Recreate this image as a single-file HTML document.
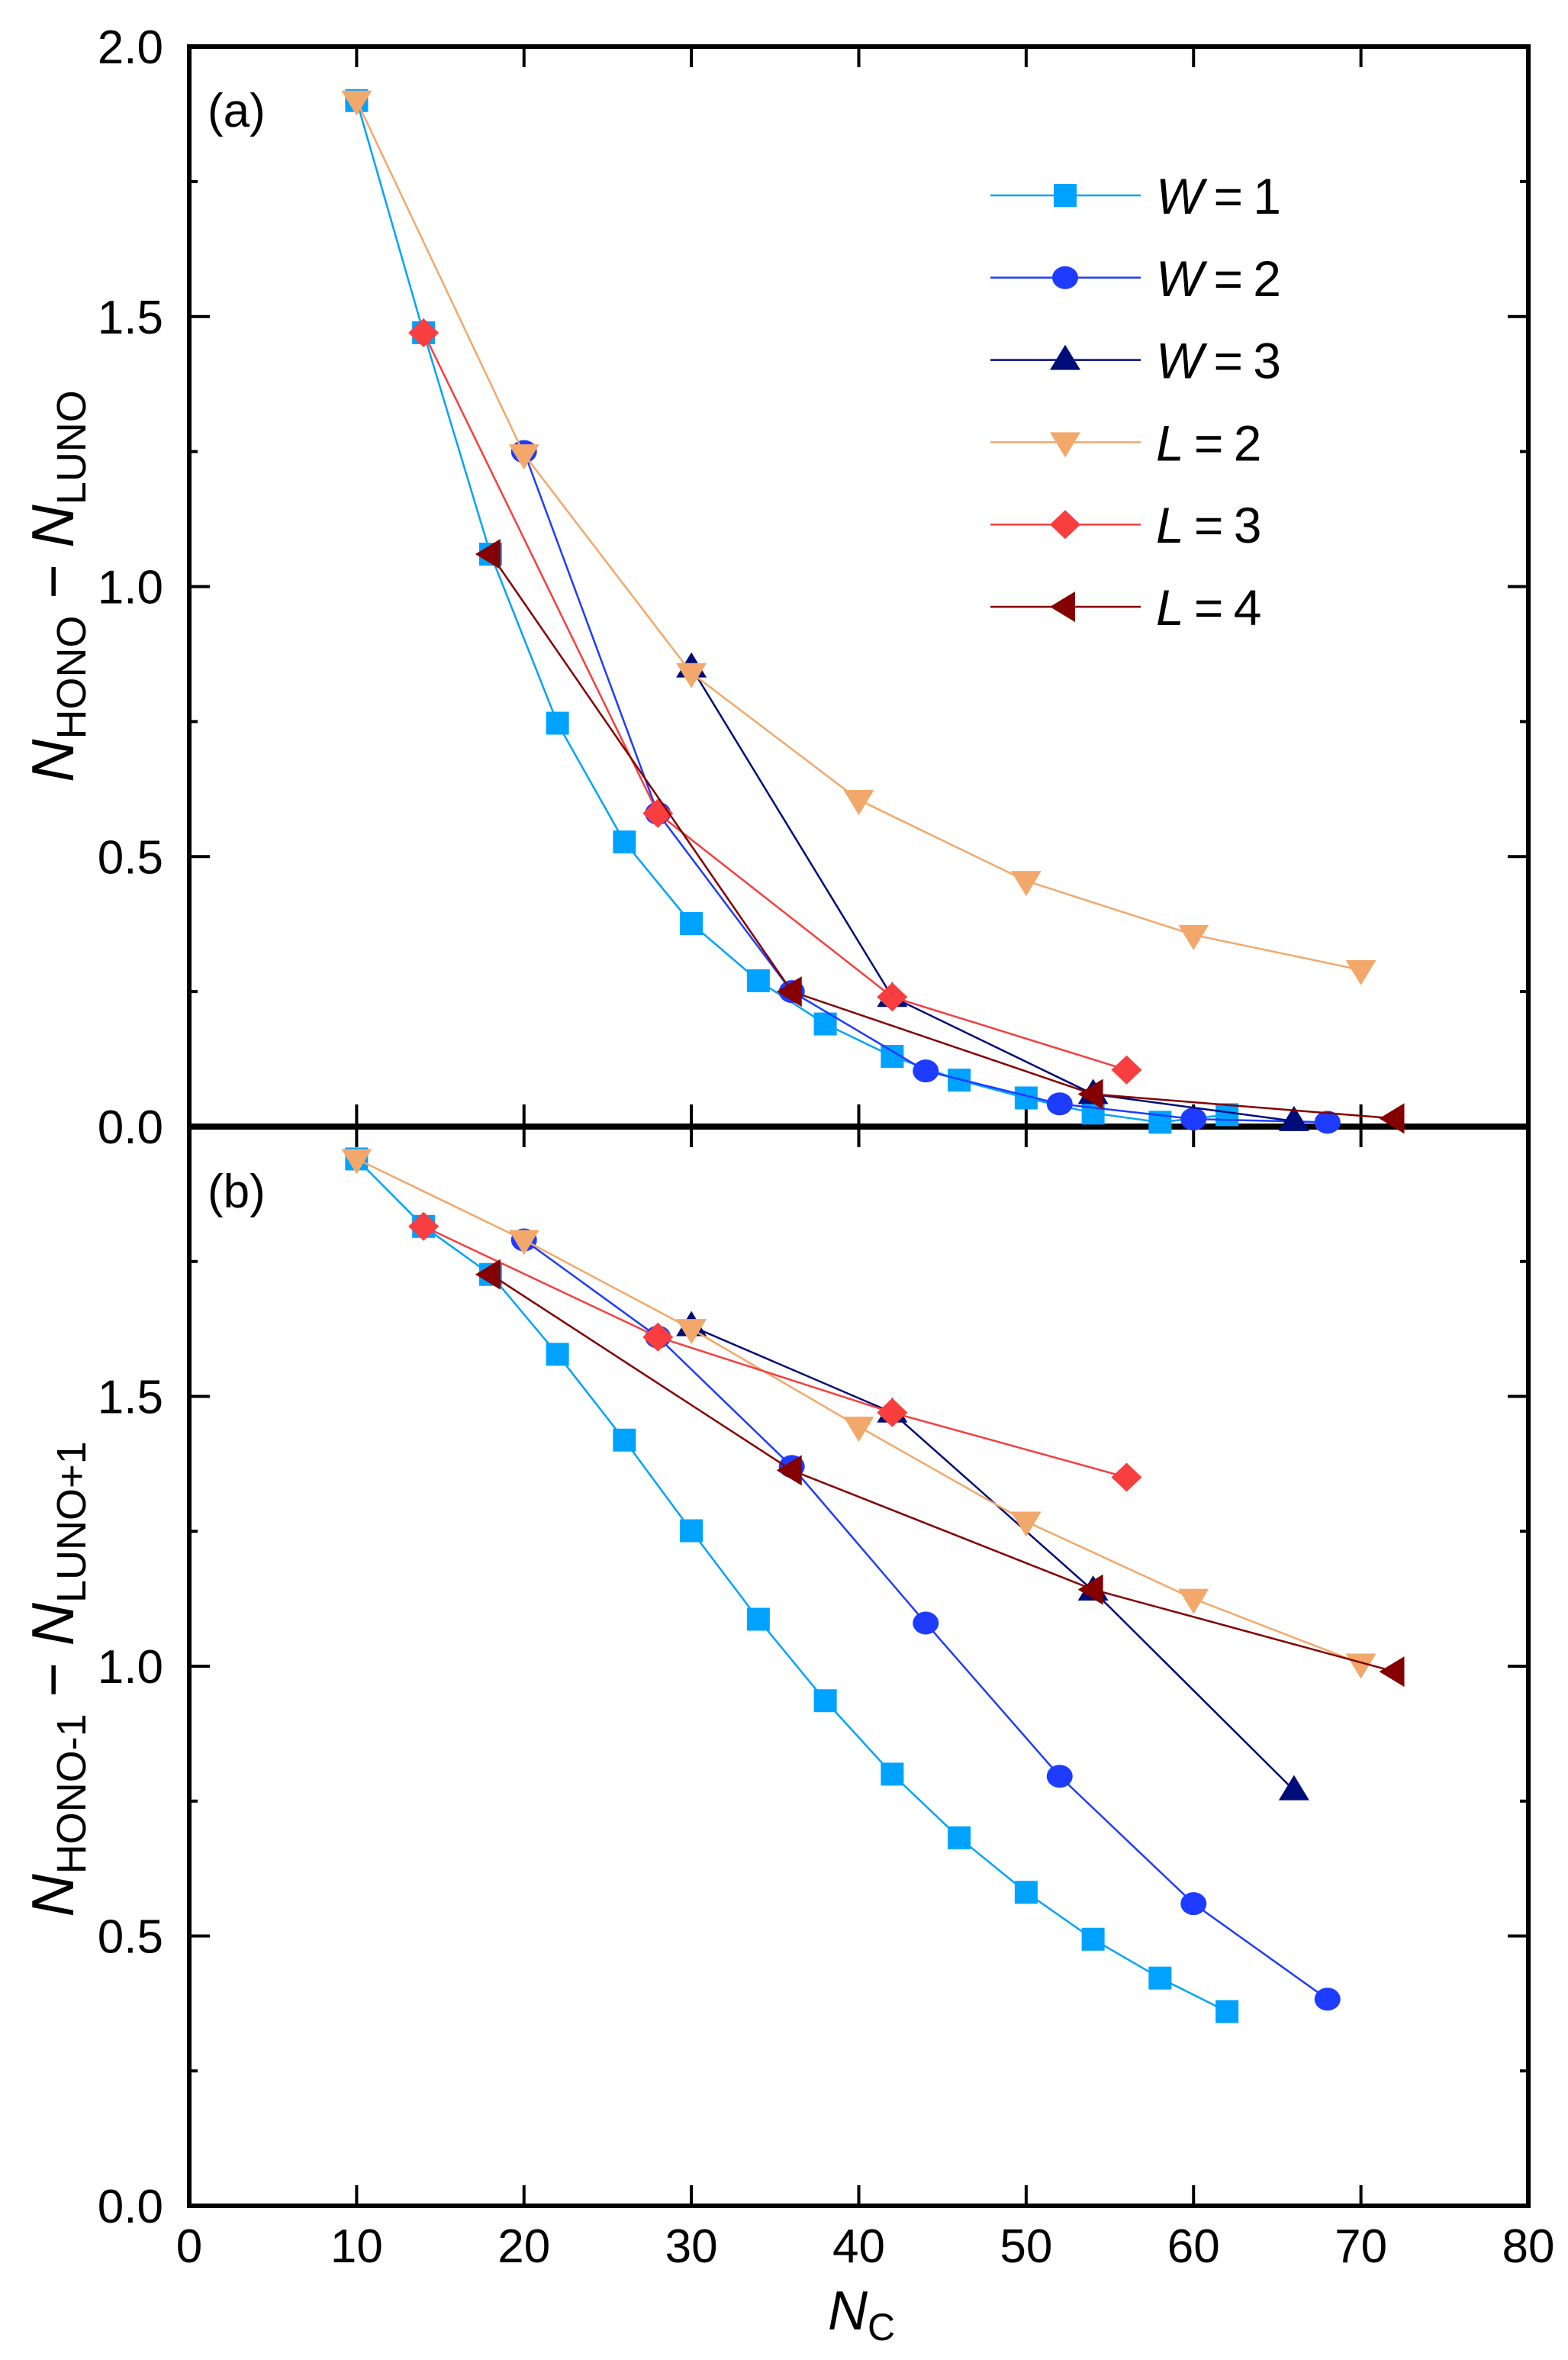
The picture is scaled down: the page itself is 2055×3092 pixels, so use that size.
<!DOCTYPE html>
<html><head><meta charset="utf-8"><style>
html,body{margin:0;padding:0;background:#fff;}
svg{display:block;font-family:"Liberation Sans",sans-serif;}
</style></head><body>
<svg id="chart" width="2055" height="3092" viewBox="0 0 2055 3092" xmlns="http://www.w3.org/2000/svg"></svg>
<script>
const xTicks=[0,10,20,30,40,50,60,70,80];
const yTicksTop=["0.0","0.5","1.0","1.5","2.0"];
const yTicksBot=["0.0","0.5","1.0","1.5"];
const seriesNames=["W=1","W=2","W=3","L=2","L=3","L=4"];
const xW1=[10,14,18,22,26,30,34,38,42,46,50,54,58,62];
const aW1=[1.90,1.47,1.06,0.747,0.527,0.376,0.27,0.19,0.13,0.086,0.053,0.025,0.008,0.022];
const bW1=[1.94,1.815,1.726,1.578,1.419,1.251,1.087,0.936,0.80,0.682,0.581,0.494,0.422,0.36];
const xW2=[20,28,36,44,52,60,68];
const aW2=[1.25,0.58,0.25,0.103,0.042,0.014,0.008];
const bW2=[1.79,1.61,1.37,1.08,0.796,0.56,0.383];
const xW3=[30,42,54,66];
const aW3=[0.85,0.24,0.06,0.01];
const bW3=[1.63,1.47,1.14,0.77];
const xL2=[10,20,30,40,50,60,70];
const aL2=[1.90,1.245,0.84,0.605,0.455,0.355,0.29];
const bL2=[1.94,1.79,1.625,1.444,1.268,1.125,1.005];
const xL3=[14,28,42,56];
const aL3=[1.47,0.58,0.24,0.105];
const bL3=[1.815,1.61,1.47,1.35];
const xL4=[18,36,54,72];
const aL4=[1.06,0.25,0.06,0.015];
const bL4=[1.726,1.363,1.142,0.99];

const svg=document.getElementById('chart');
const NS='http://www.w3.org/2000/svg';
const L=248,R=2003,TOP=61,MID=1476,BOT=2890;
const X=v=>L+(R-L)*v/80;
const YA=v=>MID-(MID-TOP)*v/2;
const YB=v=>BOT-(BOT-MID)*v/2;
function el(tag,attrs,parent){const e=document.createElementNS(NS,tag);for(const k in attrs)e.setAttribute(k,attrs[k]);(parent||svg).appendChild(e);return e;}

const series=[
 {name:seriesNames[0],c:'#00a2ff',m:'square',x:xW1,a:aW1,b:bW1},
 {name:seriesNames[1],c:'#1e3cff',m:'circle',x:xW2,a:aW2,b:bW2},
 {name:seriesNames[2],c:'#000c78',m:'up',x:xW3,a:aW3,b:bW3},
 {name:seriesNames[3],c:'#f2a86a',m:'down',x:xL2,a:aL2,b:bL2},
 {name:seriesNames[4],c:'#f83e3e',m:'diamond',x:xL3,a:aL3,b:bL3},
 {name:seriesNames[5],c:'#850000',m:'left',x:xL4,a:aL4,b:bL4}
];
function marker(type,cx,cy,color,g){
 let e;
 if(type==='square')e=el('rect',{x:cx-15,y:cy-15,width:30,height:30,fill:color},g);
 else if(type==='circle')e=el('ellipse',{cx:cx,cy:cy,rx:17,ry:15,fill:color},g);
 else if(type==='up')e=el('polygon',{points:`${cx},${cy-20} ${cx+20},${cy+13} ${cx-20},${cy+13}`,fill:color},g);
 else if(type==='down')e=el('polygon',{points:`${cx},${cy+20} ${cx+20},${cy-13} ${cx-20},${cy-13}`,fill:color},g);
 else if(type==='diamond')e=el('polygon',{points:`${cx},${cy-19} ${cx+20},${cy} ${cx},${cy+19} ${cx-20},${cy}`,fill:color},g);
 else e=el('polygon',{points:`${cx-20},${cy} ${cx+13},${cy-20} ${cx+13},${cy+20}`,fill:color},g);
 return e;
}
for(const [t,b,nm] of [[TOP,MID,'panel-a'],[MID,BOT,'panel-b']]){
 const f=el('rect',{x:L,y:t,width:R-L,height:b-t,fill:'none',stroke:'#000','stroke-width':6});
 
 
}
el('line',{x1:L-3,y1:MID,x2:R+3,y2:MID,stroke:'#000','stroke-width':8});
xTicks.forEach((v,i)=>{
 const x=X(v);
 if(i>0&&i<xTicks.length-1){
  el('line',{x1:x,y1:TOP,x2:x,y2:TOP+27,stroke:'#000','stroke-width':4});
  el('line',{x1:x,y1:MID-29,x2:x,y2:MID+27,stroke:'#000','stroke-width':4});
  el('line',{x1:x,y1:BOT,x2:x,y2:BOT-27,stroke:'#000','stroke-width':4});
 }
 const t=el('text',{x:x,y:2964,'font-size':62,'text-anchor':'middle'});
 t.textContent=v;
 
 
});
function yTicks(Y,labels,tag){
 for(let v=0;v<=2.001;v+=0.25){
  const y=Y(v);const major=Math.abs(v*2-Math.round(v*2))<0.01;
  const len=major?27:11;
  el('line',{x1:L,y1:y,x2:L+len,y2:y,stroke:'#000','stroke-width':4});
  el('line',{x1:R,y1:y,x2:R-len,y2:y,stroke:'#000','stroke-width':4});
 }
 labels.forEach(s=>{
  const t=el('text',{x:214,y:Y(parseFloat(s))+22,'font-size':62,'text-anchor':'end'});
  t.textContent=s;
  
  
 });
}
yTicks(YA,yTicksTop,'panel-a');
yTicks(YB,yTicksBot,'panel-b');
for(const [Y,key,p] of [[YA,'a','panel-a'],[YB,'b','panel-b']]){
 series.forEach(s=>{
  const g=el('g',{});
  
  
  const pts=s.x.map((v,i)=>X(v)+','+Y(s[key][i])).join(' ');
  el('polyline',{points:pts,fill:'none',stroke:s.c,'stroke-width':2.5},g);
  s.x.forEach((v,i)=>{
   const m=marker(s.m,X(v),Y(s[key][i]),s.c,g);
   
   
  });
 });
}
series.forEach((s,i)=>{
 const y=256+i*107.8;
 const g=el('g',{});
 
 
 el('line',{x1:1298,y1:y,x2:1495,y2:y,stroke:s.c,'stroke-width':2.5},g);
 marker(s.m,1396,y,s.c,g);
 const parts=s.name.split('=');
 const t=el('text',{x:1515,y:y+24,'font-size':66},g);
 const ts=el('tspan',{'font-style':'italic'},t);ts.textContent=parts[0];
 const t2=el('tspan',{},t);t2.textContent='\u2009=\u2009'+parts[1];
});
</script>
<svg style="position:absolute;left:0;top:0" width="2055" height="3092" xmlns="http://www.w3.org/2000/svg" font-family="Liberation Sans, sans-serif">
<text x="272" y="166" font-size="62">(a)</text>
<text x="272" y="1582" font-size="62">(b)</text>
<text x="1085" y="3052" font-size="72"><tspan font-style="italic">N</tspan><tspan font-size="50" dy="14">C</tspan></text>
<text transform="translate(96,768) rotate(-90)" text-anchor="middle" font-size="78"><tspan font-style="italic">N</tspan><tspan font-size="54" dy="16">HONO</tspan><tspan dy="-16"> − </tspan><tspan font-style="italic">N</tspan><tspan font-size="54" dy="16">LUNO</tspan></text>
<text transform="translate(96,2200) rotate(-90)" text-anchor="middle" font-size="78"><tspan font-style="italic">N</tspan><tspan font-size="54" dy="16">HONO-1</tspan><tspan dy="-16"> − </tspan><tspan font-style="italic">N</tspan><tspan font-size="54" dy="16">LUNO+1</tspan></text>
</svg>
</body></html>
